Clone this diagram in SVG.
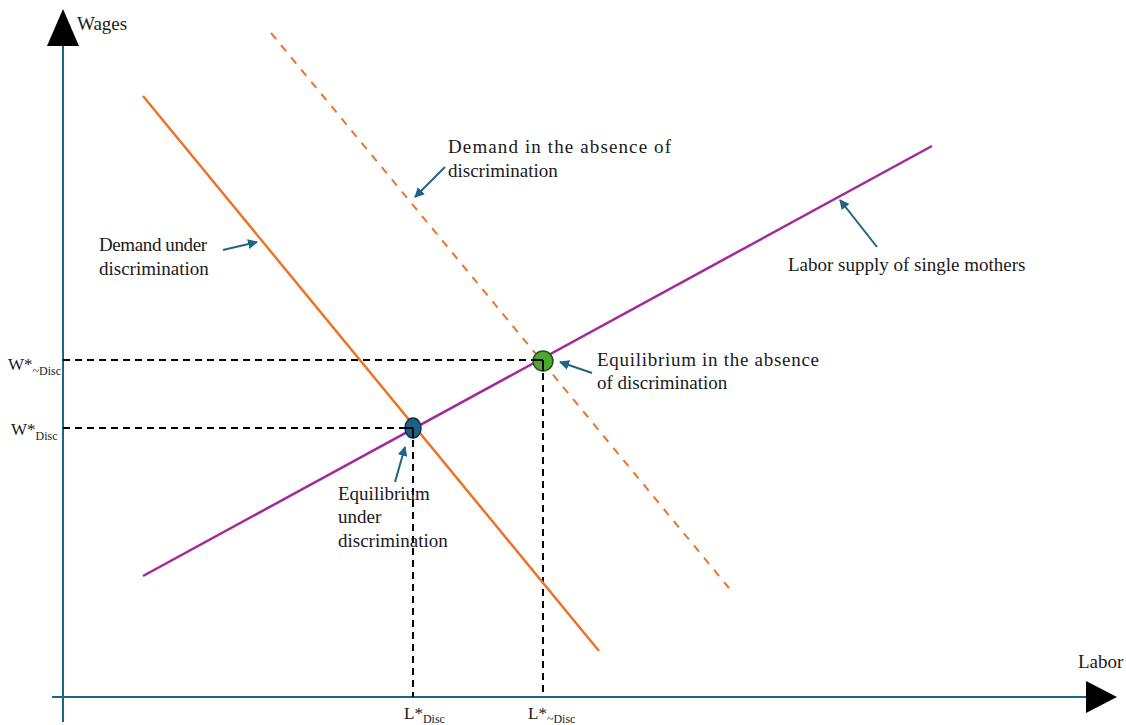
<svg xmlns="http://www.w3.org/2000/svg" width="1126" height="725" viewBox="0 0 1126 725">
<style>
text{font-family:"Liberation Serif","DejaVu Serif",serif;font-size:19px;fill:#1a1a1a}
.lab{font-size:17px}
.sub{font-size:12px}
.axis{stroke:#1f6485;stroke-width:2;fill:none}
.guide{stroke:#000;stroke-width:2;stroke-dasharray:7,5;fill:none}
.call{stroke:#1f6485;stroke-width:2;fill:none;marker-end:url(#ah)}
</style>
<defs>
<marker id="ah" viewBox="0 0 10 10" refX="9" refY="5" markerWidth="5" markerHeight="5" orient="auto" markerUnits="strokeWidth">
<path d="M0,0 L10,5 L0,10 z" fill="#1f6485"/>
</marker>
</defs>
<g id="axes">
<line class="axis" x1="63" y1="44" x2="63" y2="722"/>
<path d="M63,9 L79,46 L47,46 z" fill="#000"/>
<line class="axis" x1="52" y1="697" x2="1087" y2="697"/>
<path d="M1117,697 L1086,713 L1086,681 z" fill="#000"/>
<text x="77" y="30">Wages</text>
<text x="1078" y="668">Labor</text>
</g>
<g id="guides">
<line class="guide" x1="63" y1="360" x2="543" y2="360"/>
<line class="guide" x1="63" y1="428" x2="413" y2="428"/>
<line class="guide" x1="413" y1="428" x2="413" y2="697"/>
<line class="guide" x1="543" y1="361" x2="543" y2="697"/>
</g>
<g id="demand-disc">
<line x1="143" y1="96" x2="599" y2="651" stroke="#ec7329" stroke-width="2.5"/>
</g>
<g id="demand-nodisc">
<line x1="271" y1="33" x2="729" y2="588" stroke="#ec7329" stroke-width="2" stroke-dasharray="8,7.82"/>
</g>
<g id="supply">
<line x1="143" y1="576" x2="932" y2="146" stroke="#a2299a" stroke-width="2.5"/>
</g>
<g id="eq-disc">
<ellipse cx="413" cy="428" rx="8" ry="10" fill="#1a6288" stroke="#0e3347" stroke-width="1.5"/>
<line x1="413" y1="428" x2="413" y2="438" stroke="#000" stroke-width="2"/>
<line x1="405" y1="428" x2="413" y2="428" stroke="#000" stroke-width="2"/>
</g>
<g id="eq-nodisc">
<circle cx="543" cy="361" r="10" fill="#4ea72e" stroke="#255218" stroke-width="1.5"/>
<line x1="533" y1="360" x2="543" y2="360" stroke="#000" stroke-width="2"/>
<line x1="543" y1="360" x2="543" y2="371" stroke="#000" stroke-width="2"/>
</g>
<g id="connectors">
<line class="call" x1="445" y1="167" x2="415" y2="197"/>
<line class="call" x1="223" y1="250" x2="257" y2="242"/>
<line class="call" x1="877" y1="247" x2="840" y2="200"/>
<line class="call" x1="592" y1="373" x2="560" y2="362"/>
<line class="call" x1="395" y1="482" x2="405" y2="447"/>
</g>
<g id="labels">
<text class="lab" x="8" y="370">W*<tspan class="sub" dy="5">~Disc</tspan></text>
<text class="lab" x="11" y="435">W*<tspan class="sub" dy="5">Disc</tspan></text>
<text class="lab" x="404" y="719">L*<tspan class="sub" dy="4">Disc</tspan></text>
<text class="lab" x="528" y="719">L*<tspan class="sub" dy="4">~Disc</tspan></text>
<text x="448" y="153" textLength="223" lengthAdjust="spacing">Demand in the absence of</text>
<text x="448" y="177">discrimination</text>
<text x="99" y="251" textLength="108" lengthAdjust="spacing">Demand under</text>
<text x="99" y="275">discrimination</text>
<text x="788" y="271">Labor supply of single mothers</text>
<text x="597" y="366" textLength="222" lengthAdjust="spacing">Equilibrium in the absence</text>
<text x="597" y="389">of discrimination</text>
<text x="338" y="500">Equilibrium</text>
<text x="338" y="523">under</text>
<text x="338" y="547">discrimination</text>
</g>
</svg>
